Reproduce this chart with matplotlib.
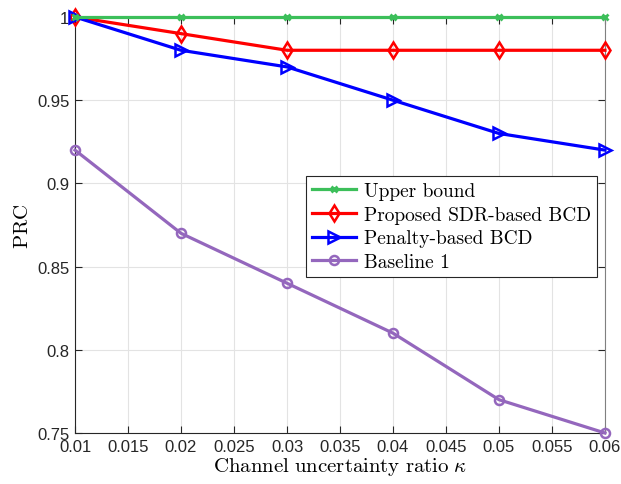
import matplotlib.pyplot as plt

plt.rcParams['mathtext.fontset'] = 'cm'
plt.rcParams['axes.unicode_minus'] = False

# data
kappa = [0.01, 0.02, 0.03, 0.04, 0.05, 0.06]
upper_bound = [1, 1, 1, 1, 1, 1]
proposed_sdr = [1, 0.99, 0.98, 0.98, 0.98, 0.98]
penalty_bcd = [1, 0.98, 0.97, 0.95, 0.93, 0.92]
baseline1 = [0.92, 0.87, 0.84, 0.81, 0.77, 0.75]

xticks = [0.01, 0.015, 0.02, 0.025, 0.03, 0.035, 0.04, 0.045, 0.05, 0.055, 0.06]
xtick_labels = ['0.01', '0.015', '0.02', '0.025', '0.03', '0.035', '0.04', '0.045', '0.05', '0.055', '0.06']
yticks = [0.75, 0.8, 0.85, 0.9, 0.95, 1]
ytick_labels = ['0.75', '0.8', '0.85', '0.9', '0.95', '1']

fig = plt.figure(figsize=(6.21, 4.85), dpi=100)
ax = fig.add_axes([0.1208, 0.1052, 0.8534, 0.8577])

ax.plot(kappa, upper_bound, color='#3cbf5a', lw=2.3, marker='x', ms=5, mew=2,
        label='Upper bound', clip_on=False, zorder=5)
ax.plot(kappa, proposed_sdr, color='#ff0000', lw=2.3, marker='d', ms=8.5, mew=1.8,
        mfc='none', label='Proposed SDR-based BCD', clip_on=False, zorder=4)
ax.plot(kappa, penalty_bcd, color='#0000ff', lw=2.3, marker='>', ms=8, mew=1.8,
        mfc='none', label='Penalty-based BCD', clip_on=False, zorder=4)
ax.plot(kappa, baseline1, color='#9467bd', lw=2.3, marker='o', ms=6.5, mew=1.8,
        mfc='none', label='Baseline 1', clip_on=False, zorder=4)

ax.set_xlim(0.01, 0.06)
ax.set_ylim(0.75, 1)
ax.set_xticks(xticks)
ax.set_xticklabels(xtick_labels, fontfamily='Liberation Sans', fontsize=12, color='#262626')
ax.set_yticks(yticks)
ax.set_yticklabels(ytick_labels, fontfamily='Liberation Sans', fontsize=12, color='#262626')
ax.tick_params(direction='in', length=5, width=0.8, color='#262626', top=True, right=True, pad=4)
ax.grid(True, color='#e3e3e3', lw=0.8)
ax.set_axisbelow(True)
for side in ['left', 'bottom']:
    ax.spines[side].set_color('#262626')
for side in ['top', 'right']:
    ax.spines[side].set_color('#808080')

ax.set_xlabel(r'$\mathrm{Channel\ uncertainty\ ratio}\ \kappa$', fontsize=15, labelpad=1)
ax.set_ylabel(r'$\mathrm{PRC}$', fontsize=15, labelpad=4)

leg = ax.legend(loc='upper right', bbox_to_anchor=(0.985, 0.618), borderaxespad=0,
                fancybox=False, framealpha=1, edgecolor='#262626',
                prop={'family': 'cmr10', 'size': 14}, handlelength=2.3,
                labelspacing=0.3, borderpad=0.3, handletextpad=0.4)
leg.get_frame().set_linewidth(0.8)

fig.savefig('out.png', dpi=100)
